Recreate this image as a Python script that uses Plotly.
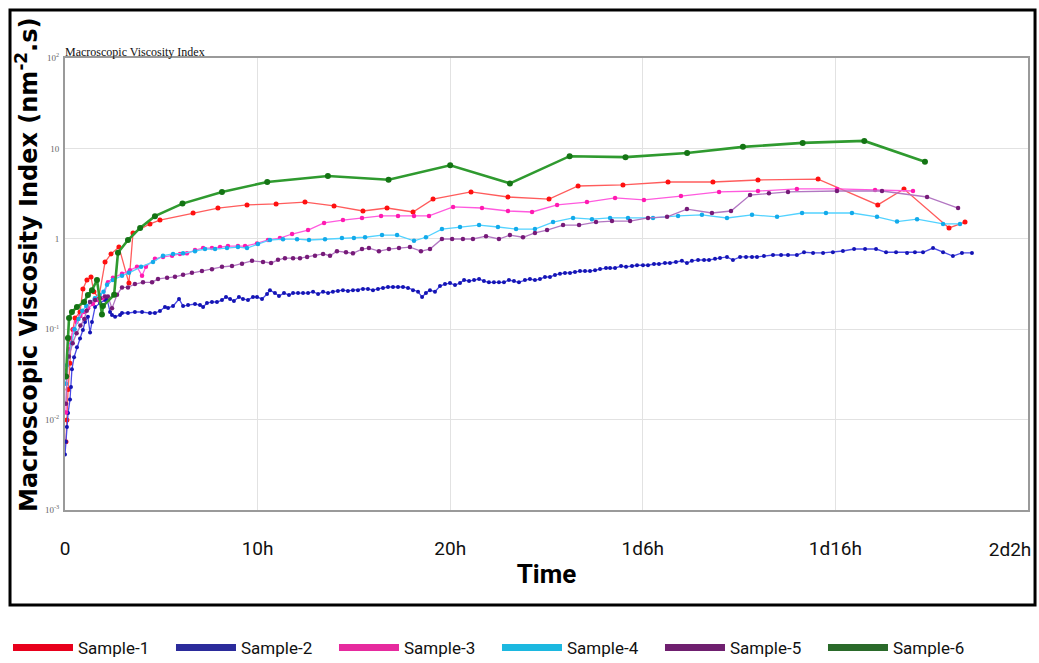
import plotly.graph_objects as go

# Elapsed time in hours, macroscopic viscosity index in nm^-2.s
s1_hours = [0.05, 0.10, 0.16, 0.26, 0.31, 0.41, 0.52, 0.78, 0.93, 1.14, 1.35, 1.5, 1.75, 2.08, 2.39, 2.80,
            3.32, 3.53, 4.41, 4.93, 6.65, 7.94, 9.45, 10.96, 12.46, 13.97, 15.47, 16.72, 18.07, 19.11, 21.08,
            23.0, 25.13, 26.64, 28.97, 31.31, 33.64, 35.98, 39.1, 42.2, 43.56, 45.9, 46.73]
s1_mvi = [0.0057, 0.0099, 0.0215, 0.042, 0.076, 0.099, 0.133, 0.155, 0.279, 0.35, 0.377, 0.26, 0.22, 0.553,
          0.68, 0.81, 0.324, 1.16, 1.46, 1.61, 1.93, 2.19, 2.37, 2.43, 2.55, 2.31, 2.03, 2.19, 1.98, 2.75, 3.30,
          2.90, 2.75, 3.84, 3.94, 4.25, 4.25, 4.47, 4.58, 2.37, 3.56, 1.32, 1.53]

s2_hours = [0.00, 0.05, 0.10, 0.16, 0.26, 0.31, 0.36, 0.47, 0.62, 0.78, 0.93, 1.04, 1.19, 1.30, 1.40, 1.56,
            1.82, 2.08, 2.18, 2.34, 2.44, 2.60, 2.86, 2.96, 3.27, 3.63, 4.00, 4.41, 4.67, 4.93, 5.19, 5.35,
            5.61, 5.92, 6.13, 6.39, 6.75, 7.01, 7.17, 7.37, 7.63, 7.89, 8.15, 8.36, 8.57, 8.77, 9.03, 9.24,
            9.50, 9.76, 9.97, 10.23, 10.49, 10.64, 10.90, 11.11, 11.37, 11.63, 11.84, 12.10, 12.36, 12.62,
            12.88, 13.14, 13.40, 13.66, 13.91, 14.17, 14.43, 14.69, 14.95, 15.21, 15.47, 15.73, 15.99, 16.25,
            16.51, 16.77, 17.03, 17.29, 17.55, 17.81, 18.07, 18.33, 18.54, 18.74, 18.95, 19.21, 19.47, 19.73,
            19.99, 20.25, 20.51, 20.72, 20.98, 21.24, 21.50, 21.75, 22.01, 22.27, 22.53, 22.79, 23.05, 23.31,
            23.57, 23.88, 24.14, 24.40, 24.66, 24.92, 25.18, 25.44, 25.70, 25.96, 26.22, 26.48, 26.74, 27.00,
            27.26, 27.52, 27.78, 28.09, 28.30, 28.56, 28.87, 29.13, 29.44, 29.70, 30.01, 30.27, 30.58, 30.84,
            31.15, 31.41, 31.72, 32.03, 32.29, 32.55, 32.87, 33.18, 33.44, 33.75, 34.01, 34.37, 34.68, 35.05,
            35.36, 35.67, 35.93, 36.29, 36.76, 37.18, 37.54, 38.00, 38.37, 38.84, 39.36, 39.87, 40.39, 40.97,
            41.54, 42.11, 42.63, 43.15, 43.72, 44.13, 44.55, 45.07, 45.59, 46.10, 46.57, 47.09]
s2_mvi = [0.0041, 0.0057, 0.0083, 0.0118, 0.0167, 0.023, 0.036, 0.049, 0.063, 0.079, 0.098, 0.12, 0.137, 0.092,
          0.12, 0.176, 0.195, 0.21, 0.216, 0.155, 0.144, 0.137, 0.144, 0.151, 0.151, 0.155, 0.155, 0.151, 0.151,
          0.159, 0.176, 0.172, 0.18, 0.216, 0.18, 0.185, 0.19, 0.185, 0.176, 0.195, 0.20, 0.20, 0.21, 0.227,
          0.216, 0.205, 0.227, 0.216, 0.21, 0.227, 0.227, 0.216, 0.245, 0.27, 0.251, 0.233, 0.251, 0.239, 0.251,
          0.251, 0.251, 0.251, 0.26, 0.245, 0.26, 0.251, 0.26, 0.265, 0.27, 0.265, 0.27, 0.27, 0.279, 0.279,
          0.27, 0.279, 0.286, 0.293, 0.293, 0.293, 0.293, 0.286, 0.27, 0.26, 0.227, 0.251, 0.27, 0.26, 0.30,
          0.316, 0.324, 0.308, 0.324, 0.35, 0.341, 0.35, 0.359, 0.341, 0.33, 0.33, 0.33, 0.33, 0.35, 0.341,
          0.33, 0.35, 0.359, 0.35, 0.359, 0.378, 0.378, 0.398, 0.41, 0.419, 0.419, 0.43, 0.44, 0.44, 0.44,
          0.45, 0.463, 0.475, 0.475, 0.475, 0.50, 0.49, 0.50, 0.51, 0.51, 0.51, 0.526, 0.526, 0.54, 0.54,
          0.554, 0.57, 0.54, 0.57, 0.583, 0.583, 0.583, 0.60, 0.614, 0.63, 0.583, 0.63, 0.63, 0.63, 0.63,
          0.645, 0.662, 0.662, 0.662, 0.662, 0.71, 0.697, 0.697, 0.71, 0.733, 0.771, 0.771, 0.771, 0.71, 0.71,
          0.697, 0.71, 0.71, 0.79, 0.71, 0.645, 0.697, 0.697]

s3_hours = [0.05, 0.1, 0.2, 0.3, 0.45, 0.6, 0.8, 1.0, 1.2, 1.45, 1.7, 1.95, 2.23, 2.49, 2.96, 3.37, 3.74, 4.0,
            4.2, 4.67, 5.09, 5.56, 5.97, 6.33, 6.75, 7.17, 7.63, 8.05, 8.46, 8.98, 9.35, 9.97, 10.54, 11.16,
            11.79, 12.62, 13.45, 14.43, 15.42, 16.41, 17.29, 18.12, 18.9, 20.15, 21.65, 23.0, 24.25, 25.55,
            27.1, 28.56, 30.06, 31.98, 33.96, 35.98, 38.0, 40.08, 42.06, 44.03]
s3_mvi = [0.012, 0.03, 0.06, 0.08, 0.1, 0.12, 0.14, 0.155, 0.17, 0.19, 0.21, 0.22, 0.33, 0.37, 0.41, 0.45, 0.49,
          0.39, 0.49, 0.60, 0.63, 0.65, 0.68, 0.69, 0.75, 0.79, 0.79, 0.81, 0.83, 0.83, 0.83, 0.89, 0.97, 1.02,
          1.13, 1.25, 1.50, 1.61, 1.70, 1.79, 1.79, 1.79, 1.79, 2.25, 2.19, 2.03, 1.98, 2.37, 2.55, 2.83, 2.69,
          2.97, 3.30, 3.38, 3.56, 3.56, 3.47, 3.38]

s4_hours = [0.05, 0.1, 0.2, 0.35, 0.5, 0.7, 0.9, 1.1, 1.3, 1.55, 1.8, 2.0, 2.18, 2.49, 2.96, 3.32, 3.95, 4.57,
            5.09, 5.61, 6.13, 6.75, 7.27, 7.79, 8.41, 8.98, 9.45, 10.02, 10.64, 11.32, 12.05, 12.67, 13.5, 14.38,
            15.0, 15.58, 16.46, 17.24, 18.12, 18.74, 19.57, 20.51, 21.5, 22.48, 23.42, 24.4, 25.34, 26.38,
            27.36, 28.3, 29.23, 30.53, 31.83, 33.07, 34.37, 35.67, 36.97, 38.27, 39.51, 40.86, 42.16, 43.2,
            44.24, 45.59, 46.47]
s4_mvi = [0.025, 0.04, 0.05, 0.07, 0.1, 0.13, 0.16, 0.18, 0.2, 0.22, 0.24, 0.26, 0.31, 0.35, 0.39, 0.42, 0.49,
          0.555, 0.65, 0.68, 0.69, 0.73, 0.77, 0.77, 0.79, 0.81, 0.79, 0.875, 0.97, 0.99, 0.99, 0.97, 0.99, 1.02,
          1.02, 1.04, 1.10, 1.10, 0.95, 1.04, 1.28, 1.35, 1.42, 1.35, 1.28, 1.28, 1.53, 1.70, 1.65, 1.70, 1.70,
          1.70, 1.79, 1.84, 1.70, 1.84, 1.75, 1.93, 1.93, 1.93, 1.75, 1.55, 1.65, 1.46, 1.46]

s5_hours = [0.05, 0.1, 0.2, 0.4, 0.6, 0.8, 1.0, 1.13, 1.30, 1.56, 1.82, 2.08, 2.23, 2.44, 2.70, 2.96, 3.27, 3.63,
            4.05, 4.52, 4.83, 5.30, 5.71, 6.13, 6.59, 7.11, 7.63, 8.15, 8.67, 9.19, 9.71, 10.28, 10.7, 11.06,
            11.42, 11.84, 12.2, 12.57, 12.98, 13.4, 13.76, 14.12, 14.59, 14.95, 15.42, 15.78, 16.3, 16.82,
            17.34, 17.91, 18.48, 18.95, 19.57, 20.1, 20.66, 21.18, 21.86, 22.53, 23.1, 23.78, 24.4, 25.03,
            25.86, 26.69, 27.57, 28.4, 29.34, 30.27, 31.26, 32.29, 33.59, 34.58, 35.57, 36.55, 37.54, 40.08,
            42.42, 44.76, 46.37]
s5_mvi = [0.015, 0.03, 0.05, 0.07, 0.09, 0.11, 0.13, 0.16, 0.20, 0.21, 0.22, 0.23, 0.23, 0.17, 0.24, 0.29, 0.29,
          0.316, 0.33, 0.33, 0.36, 0.37, 0.38, 0.40, 0.42, 0.44, 0.46, 0.49, 0.50, 0.53, 0.57, 0.555, 0.54, 0.585,
          0.61, 0.61, 0.61, 0.63, 0.65, 0.68, 0.65, 0.73, 0.71, 0.69, 0.77, 0.79, 0.73, 0.77, 0.79, 0.81, 0.73,
          0.77, 0.995, 0.995, 0.995, 0.995, 1.07, 0.995, 1.10, 1.04, 1.16, 1.25, 1.42, 1.42, 1.53, 1.57, 1.57,
          1.70, 1.75, 2.13, 1.93, 2.03, 3.05, 3.2, 3.30, 3.38, 3.38, 2.90, 2.19]

s6_hours = [0.05, 0.15, 0.21, 0.36, 0.62, 0.99, 1.19, 1.40, 1.66, 1.92, 1.97, 2.55, 2.75, 3.27, 3.9, 4.67, 6.1,
            8.15, 10.5, 13.65, 16.8, 20.0, 23.1, 26.2, 29.1, 32.3, 35.2, 38.3, 41.5, 44.65]
s6_mvi = [0.03, 0.08, 0.133, 0.155, 0.176, 0.20, 0.239, 0.27, 0.35, 0.145, 0.18, 0.24, 0.70, 0.97, 1.32, 1.78,
          2.45, 3.3, 4.25, 4.95, 4.5, 6.5, 4.1, 8.2, 8.0, 8.9, 10.4, 11.5, 12.1, 7.1]

sample_names = ["Sample-1", "Sample-2", "Sample-3", "Sample-4", "Sample-5", "Sample-6"]
x_tick_hours = [0, 10, 20, 30, 40]
x_tick_text = ["0", "10h", "20h", "1d6h", "1d16h"]
x_end_hours = [50]
x_end_text = ["2d2h"]
y_tick_vals = [0.001, 0.01, 0.1, 1, 10, 100]
y_tick_text = ["10<sup>-3</sup>", "10<sup>-2</sup>", "10<sup>-1</sup>", "1", "10", "10<sup>2</sup>"]

series = [
    (s1_hours, s1_mvi, "#ff5c5c", "#ff1010", 1.3, 5),
    (s2_hours, s2_mvi, "#4a4ae6", "#1414b4", 1.3, 4),
    (s3_hours, s3_mvi, "#ff5ade", "#ff1ab0", 1.3, 4.5),
    (s4_hours, s4_mvi, "#52d2ff", "#12aaea", 1.3, 4.5),
    (s5_hours, s5_mvi, "#b276c2", "#761a78", 1.3, 4.5),
    (s6_hours, s6_mvi, "#2f9a2f", "#147414", 2.6, 6),
]
legend_colors = ["#e8001c", "#2b2b9b", "#e62a9e", "#1cb8e0", "#6f1f6f", "#2a6a2a"]

tick_font = dict(family="Liberation Sans Narrow, Roboto, sans-serif", size=19, color="#111")

fig = go.Figure()

for name, (hrs, vals, lc, mc, lw, ms) in zip(sample_names, series):
    fig.add_trace(go.Scatter(
        x=hrs, y=vals, mode="lines+markers", name=name, showlegend=False,
        line=dict(color=lc, width=lw),
        marker=dict(color=mc, size=ms, symbol="circle"),
    ))

# legend entries drawn as thick swatches
for name, col in zip(sample_names, legend_colors):
    fig.add_trace(go.Scatter(
        x=[None], y=[None], mode="lines", name=name,
        line=dict(color=col, width=7),
    ))

# empty trace that hosts the secondary x axis carrying the end-of-range label
fig.add_trace(go.Scatter(x=[None], y=[None], xaxis="x2", yaxis="y", mode="lines",
                         showlegend=False, hoverinfo="skip"))

# outer black frame around the chart panel
fig.add_shape(type="rect", xref="paper", yref="paper",
              x0=-0.0571, x1=1.0073, y0=-0.2102, y1=1.1062,
              line=dict(color="black", width=3), fillcolor="rgba(0,0,0,0)", layer="above")

# rotated y-axis caption on the left of the panel
fig.add_annotation(
    text="<b>Macroscopic Viscosity Index (nm<sup>-2</sup>.s)</b>",
    xref="paper", yref="paper", x=-0.0395, y=0.542, xanchor="center", yanchor="middle",
    textangle=-90, showarrow=False,
    font=dict(family="DejaVu Sans", size=24, color="#000"),
)

fig.update_layout(
    width=1039, height=663,
    margin=dict(l=65, r=11, t=58, b=153, autoexpand=False),
    paper_bgcolor="white", plot_bgcolor="white",
    title=dict(text="Macroscopic Viscosity Index", x=0, xref="paper", xanchor="left",
               y=1, yref="paper", yanchor="bottom", pad=dict(b=2, l=0),
               font=dict(family="Liberation Serif", size=12, color="#111")),
    xaxis=dict(
        range=[0, 50], tickvals=x_tick_hours, ticktext=x_tick_text,
        showgrid=True, gridcolor="#e2e2e2", gridwidth=1,
        showline=True, linecolor="#9a9a9a", linewidth=2, mirror=True,
        zeroline=False, ticks="", ticklabelstandoff=20,
        tickfont=tick_font,
        title=dict(text="<b>Time</b>", standoff=6,
                   font=dict(family="Liberation Sans Narrow, Roboto, sans-serif", size=26, color="#000")),
    ),
    # end-of-range label, nudged left so it stays inside the panel
    xaxis2=dict(
        overlaying="x", matches="x", anchor="y", side="bottom",
        range=[0, 50], tickvals=x_end_hours, ticktext=x_end_text,
        showgrid=False, showline=False, zeroline=False, ticks="",
        ticklabelstandoff=26, ticklabelshift=-18, ticklabeloverflow="allow",
        tickfont=tick_font,
    ),
    yaxis=dict(
        type="log", range=[-3, 2], tickvals=y_tick_vals, ticktext=y_tick_text,
        showgrid=True, gridcolor="#e2e2e2", gridwidth=1,
        showline=True, linecolor="#9a9a9a", linewidth=2, mirror=True,
        zeroline=False, ticks="", ticklabelstandoff=2,
        tickfont=dict(family="Liberation Serif", size=9, color="#666"),
    ),
    legend=dict(
        orientation="h", x=-0.0592, xanchor="left", y=-0.305, yanchor="middle",
        font=dict(family="Liberation Sans Narrow, Roboto, sans-serif", size=17, color="#111"),
        itemwidth=60, entrywidth=88, entrywidthmode="pixels",
        bgcolor="rgba(0,0,0,0)",
    ),
)

fig.write_html("out.html")
